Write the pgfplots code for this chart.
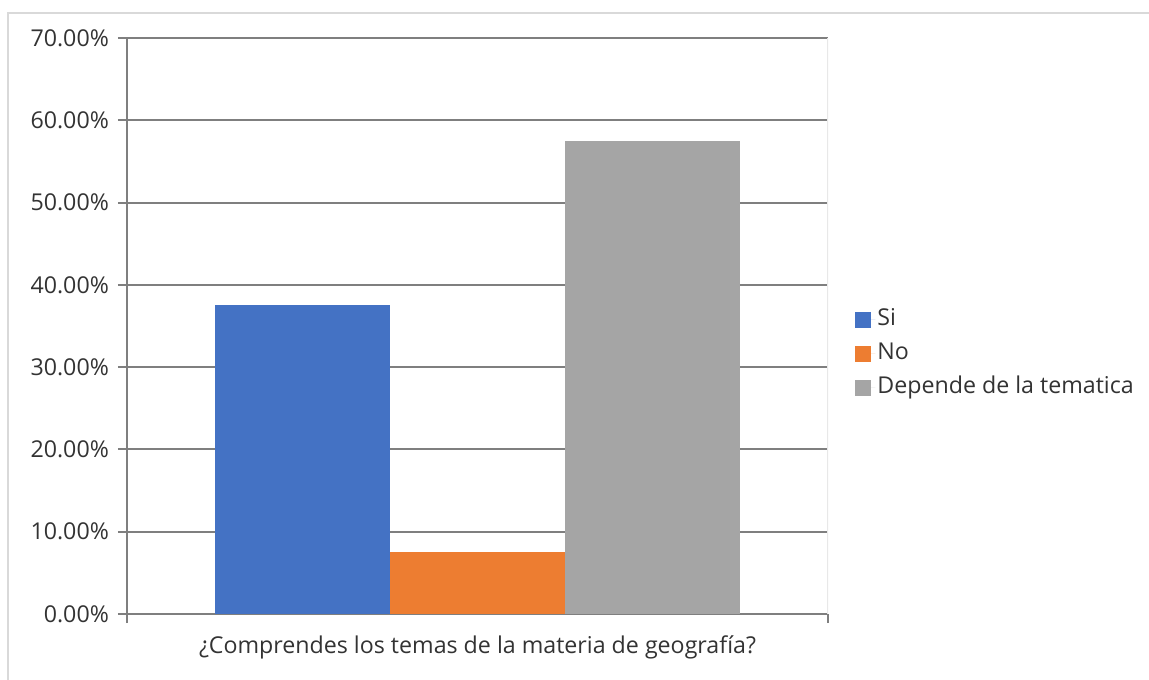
\documentclass[border=0pt]{standalone}
\usepackage{fontspec}
\setmainfont{Open Sans}
\usepackage{pgfplots}
\pgfplotsset{compat=1.18}
\definecolor{cSi}{HTML}{4472C4}
\definecolor{cNo}{HTML}{ED7D31}
\definecolor{cDep}{HTML}{A5A5A5}
\definecolor{txt}{HTML}{333333}
\definecolor{gridc}{HTML}{7F7F7F}
\definecolor{frame}{HTML}{D9D9D9}
\begin{document}
\begin{tikzpicture}
\fontsize{11.6pt}{13pt}\selectfont
\useasboundingbox (-63.5pt,-32.5pt) rectangle (511pt,307pt);
\draw[frame, line width=1pt] (-59.5pt,-40pt) -- (-59.5pt,300.5pt) -- (520pt,300.5pt);
\begin{axis}[
  at={(0,0)}, anchor=south west,
  scale only axis, width=350.5pt, height=288pt,
  ybar=0pt, bar width=87.5pt,
  xmin=-0.5, xmax=0.5, ymin=0, ymax=70,
  axis x line*=bottom, axis y line*=left,
  axis line style={gridc, line width=1pt},
  xtick={-0.5,0.5}, xticklabels={,},
  ytick={0,10,...,70},
  yticklabels={0.00\%,10.00\%,20.00\%,30.00\%,40.00\%,50.00\%,60.00\%,70.00\%},
  tick align=outside, major tick length=4.5pt,
  tick style={gridc, line width=1pt},
  ymajorgrids, grid style={gridc, line width=1pt},
  yticklabel style={text=txt, font=\fontsize{11.6pt}{13pt}\selectfont, xshift=-0.5pt},
  xlabel={¿Comprendes los temas de la materia de geografía?},
  xlabel style={at={(axis description cs:0.5,0)}, anchor=base, yshift=-19.5pt, text=txt, font=\fontsize{11.6pt}{13pt}\selectfont},
  legend cell align=left,
  legend image code/.code={\fill[#1, draw=none] (0pt,-3.9pt) rectangle (7.8pt,3.9pt); \path (0pt,0pt) -- (10pt,0pt);},
  legend style={at={(rel axis cs:1,0)}, anchor=west, xshift=13.5pt, yshift=130pt,
    draw=none, fill=none, inner sep=0pt, row sep=5pt,
    font=\fontsize{11.6pt}{13pt}\selectfont, text=txt,
    nodes={inner sep=1pt, text height=8pt, text depth=2pt}},
]
\addplot[draw=none, fill=cSi] coordinates {(0,37.5)};
\addplot[draw=none, fill=cNo] coordinates {(0,7.5)};
\addplot[draw=none, fill=cDep] coordinates {(0,57.5)};
\legend{Si,No,Depende de la tematica}
\draw[frame!60!white, line width=0.8pt] (rel axis cs:1,0) -- (rel axis cs:1,1);
\end{axis}
\end{tikzpicture}
\end{document}
